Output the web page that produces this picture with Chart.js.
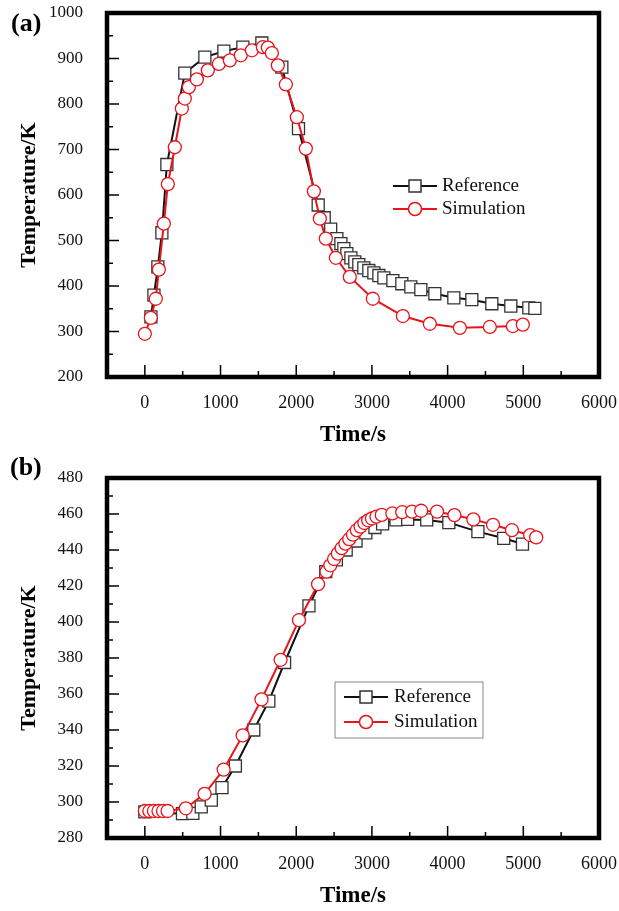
<!DOCTYPE html>
<html>
<head>
<meta charset="utf-8">
<script src="https://cdn.jsdelivr.net/npm/chart.js@4.4.0/dist/chart.umd.min.js"></script>
<style>
  html, body { margin: 0; padding: 0; background: #fff; }
  .panel { position: absolute; left: 0; width: 619px; }
  #wrapA { top: 0; height: 450px; }
  #wrapB { top: 450px; height: 461px; }
</style>
</head>
<body>
<div class="panel" id="wrapA"><canvas id="chartA"></canvas></div>
<div class="panel" id="wrapB"><canvas id="chartB"></canvas></div>
<script>
// panel (a)
const timeRefA = [80, 120, 172, 225, 291, 528, 793, 1044, 1295, 1546, 1810, 2030, 2290, 2370, 2455, 2537, 2590, 2629, 2669, 2722, 2774, 2827, 2893, 2959, 3026, 3092, 3158, 3277, 3395, 3514, 3646, 3831, 4082, 4320, 4584, 4835, 5073, 5153];
const tempRefA = [332, 380, 442, 517, 667, 868, 903, 916, 925, 934, 881, 746, 578, 550, 525, 504, 493, 482, 471, 462, 453, 447, 440, 434, 429, 423, 418, 412, 405, 398, 392, 383, 374, 370, 361, 356, 352, 351];
const timeSimA = [0, 79, 145, 185, 251, 304, 396, 489, 528, 581, 687, 832, 978, 1123, 1268, 1414, 1559, 1625, 1678, 1757, 1863, 2008, 2127, 2233, 2312, 2391, 2523, 2708, 3012, 3409, 3765, 4162, 4558, 4862, 4994];
const tempSimA = [295, 330, 372, 436, 537, 624, 705, 790, 812, 837, 854, 874, 888, 896, 907, 918, 925, 924, 912, 885, 843, 771, 702, 608, 548, 504, 462, 420, 372, 334, 317, 308, 310, 312, 315];

// panel (b)
const timeRefB = [0, 497, 634, 745, 878, 1019, 1196, 1439, 1638, 1846, 2168, 2390, 2530, 2660, 2790, 2920, 3040, 3141, 3318, 3472, 3724, 4016, 4400, 4741, 4989];
const tempRefB = [294.5, 293.5, 293.7, 297.3, 301, 308, 320, 340, 356, 377.5, 409, 428, 434.5, 440, 445, 449.5, 452.5, 454.5, 456.7, 457, 456.7, 455.2, 450.2, 446.5, 443.3];
const timeSimB = [0, 60, 120, 180, 240, 300, 541, 789, 1041, 1293, 1541, 1793, 2036, 2288, 2400, 2450, 2500, 2550, 2600, 2650, 2700, 2750, 2800, 2850, 2900, 2950, 3000, 3060, 3130, 3270, 3400, 3530, 3650, 3860, 4090, 4340, 4600, 4850, 5090, 5170];
const tempSimB = [295, 295, 295, 295, 295, 295, 296.5, 304.5, 318, 337, 357, 379, 401, 421, 428, 431.5, 435, 438, 441, 443.5, 446, 448.5, 451, 453, 455, 456.5, 457.5, 458.5, 459.5, 460.3, 461, 461.3, 461.8, 461.3, 459.4, 457, 454, 451, 448.3, 447];

// axes
const xTicks = [0, 1000, 2000, 3000, 4000, 5000, 6000];
const yTicksA = [200, 300, 400, 500, 600, 700, 800, 900, 1000];
const yTicksB = [280, 300, 320, 340, 360, 380, 400, 420, 440, 460, 480];

const serif = "'Liberation Serif', 'Times New Roman', serif";
const RED = '#e8141c';
const BLACK = '#111';

function pts(xs, ys) {
  return xs.map((v, i) => ({ x: v, y: ys[i] }));
}

function halfSteps(vals) {
  const out = [];
  for (let i = 0; i < vals.length - 1; i++) out.push((vals[i] + vals[i + 1]) / 2);
  return out;
}

// inward tick marks + heavy frame
const frameTicks = {
  id: 'frameTicks',
  afterDraw(chart, args, opts) {
    const { ctx, chartArea: a, scales: { x, y } } = chart;
    ctx.save();
    ctx.strokeStyle = '#000';
    ctx.lineWidth = 1.5;
    ctx.beginPath();
    xTicks.forEach(v => {
      const px = x.getPixelForValue(v);
      ctx.moveTo(px, a.bottom); ctx.lineTo(px, a.bottom - 12);
    });
    halfSteps(xTicks).forEach(v => {
      const px = x.getPixelForValue(v);
      ctx.moveTo(px, a.bottom); ctx.lineTo(px, a.bottom - 6);
    });
    opts.yTicks.forEach(v => {
      const py = y.getPixelForValue(v);
      ctx.moveTo(a.left, py); ctx.lineTo(a.left + 12, py);
    });
    halfSteps(opts.yTicks).forEach(v => {
      const py = y.getPixelForValue(v);
      ctx.moveTo(a.left, py); ctx.lineTo(a.left + 6, py);
    });
    ctx.stroke();
    ctx.lineWidth = 4.5;
    ctx.strokeRect(a.left, a.top, a.right - a.left, a.bottom - a.top);
    ctx.restore();
  }
};

// legend with line through marker
const lineLegend = {
  id: 'lineLegend',
  afterDraw(chart, args, opts) {
    const ctx = chart.ctx;
    ctx.save();
    if (opts.box) {
      ctx.strokeStyle = '#888';
      ctx.lineWidth = 1;
      ctx.strokeRect(opts.box[0], opts.box[1], opts.box[2], opts.box[3]);
    }
    chart.data.datasets.forEach((ds, i) => {
      const y = opts.y + i * opts.gap;
      const mid = (opts.x1 + opts.x2) / 2;
      ctx.strokeStyle = ds.borderColor;
      ctx.lineWidth = 2;
      ctx.beginPath();
      ctx.moveTo(opts.x1, y); ctx.lineTo(opts.x2, y);
      ctx.stroke();
      ctx.fillStyle = '#fff';
      ctx.strokeStyle = ds.pointBorderColor;
      ctx.lineWidth = 1.5;
      ctx.beginPath();
      if (ds.pointStyle === 'rect') {
        ctx.rect(mid - 6, y - 6, 12, 12);
      } else {
        ctx.arc(mid, y, 6.5, 0, Math.PI * 2);
      }
      ctx.fill();
      ctx.stroke();
      ctx.fillStyle = '#111';
      ctx.font = '19px ' + serif;
      ctx.textBaseline = 'middle';
      ctx.textAlign = 'left';
      ctx.fillText(ds.label, opts.textX, y);
    });
    ctx.restore();
  }
};

// panel letter
const panelTag = {
  id: 'panelTag',
  afterDraw(chart, args, opts) {
    const ctx = chart.ctx;
    ctx.save();
    ctx.fillStyle = '#000';
    ctx.font = 'bold 26px ' + serif;
    ctx.textBaseline = 'middle';
    ctx.textAlign = 'left';
    ctx.fillText(opts.text, opts.x, opts.y);
    ctx.restore();
  }
};

function makeChart(id, refData, simData, yTicks, topPad, tag, legendOpts) {
  const ctx = document.getElementById(id).getContext('2d');
  return new Chart(ctx, {
    type: 'line',
    data: {
      datasets: [{
        label: 'Reference',
        data: refData,
        borderColor: BLACK,
        borderWidth: 2,
        pointStyle: 'rect',
        pointRadius: 8.5,
        pointBackgroundColor: '#fff',
        pointBorderColor: '#333',
        pointBorderWidth: 1.3,
        tension: 0,
        order: 2
      }, {
        label: 'Simulation',
        data: simData,
        borderColor: RED,
        borderWidth: 2,
        pointStyle: 'circle',
        pointRadius: 6.5,
        pointBackgroundColor: '#fff',
        pointBorderColor: RED,
        pointBorderWidth: 1.3,
        tension: 0,
        order: 1
      }]
    },
    options: {
      responsive: true,
      maintainAspectRatio: false,
      animation: false,
      layout: { padding: { top: topPad, right: 20, left: 0, bottom: 0 } },
      plugins: {
        legend: { display: false },
        tooltip: { enabled: false },
        frameTicks: { yTicks: yTicks },
        lineLegend: legendOpts,
        panelTag: tag
      },
      scales: {
        x: {
          type: 'linear',
          min: -500,
          max: 6000,
          afterBuildTicks: s => { s.ticks = xTicks.map(v => ({ value: v })); },
          afterFit: s => { s.height = 73; s.paddingLeft = 0; s.paddingRight = 0; },
          grid: { display: false, drawTicks: false },
          border: { display: false },
          ticks: {
            padding: 15, color: '#111', font: { family: serif, size: 18 },
            callback: v => String(v)
          },
          title: {
            display: true,
            text: 'Time/s',
            color: '#000',
            padding: { top: 0, bottom: 1 },
            font: { family: serif, size: 23, weight: 'bold' }
          }
        },
        y: {
          type: 'linear',
          min: yTicks[0],
          max: yTicks[yTicks.length - 1],
          afterBuildTicks: s => { s.ticks = yTicks.map(v => ({ value: v })); },
          afterFit: s => { s.width = 107; s.paddingTop = 0; s.paddingBottom = 0; },
          grid: { display: false, drawTicks: false },
          border: { display: false },
          ticks: {
            padding: 24, color: '#111', font: { family: serif, size: 17 },
            callback: v => String(v)
          },
          title: {
            display: true,
            text: 'Temperature/K',
            color: '#000',
            padding: { top: 16, bottom: 0 },
            font: { family: serif, size: 22, weight: 'bold' }
          }
        }
      }
    },
    plugins: [frameTicks, lineLegend, panelTag]
  });
}

makeChart('chartA', pts(timeRefA, tempRefA), pts(timeSimA, tempSimA), yTicksA, 13,
  { text: '(a)', x: 11, y: 24 },
  { x1: 393, x2: 437, textX: 442, y: 186, gap: 23 });

makeChart('chartB', pts(timeRefB, tempRefB), pts(timeSimB, tempSimB), yTicksB, 28,
  { text: '(b)', x: 10, y: 18 },
  { x1: 344, x2: 388, textX: 394, y: 247, gap: 25, box: [335, 232, 148, 56] });
</script>
</body>
</html>
